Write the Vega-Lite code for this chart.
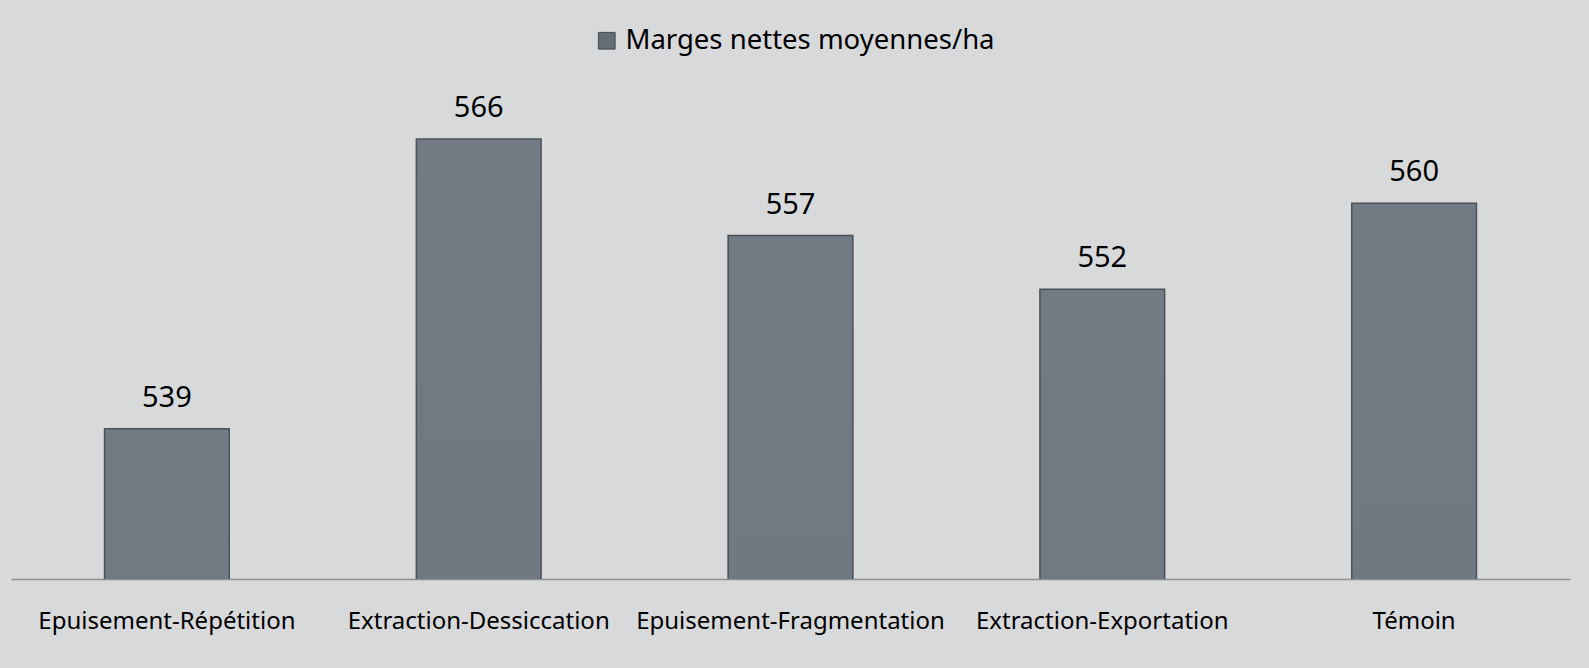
{
  "$schema": "https://vega.github.io/schema/vega-lite/v6.json",
  "autosize": {"type": "none"},
  "width": 1559,
  "height": 483,
  "padding": {"left": 11, "top": 96, "right": 19, "bottom": 89},
  "background": "#d8d9db",
  "config": {
    "view": {"stroke": null},
    "font": "Noto Sans"
  },
  "data": {
    "values": [
      {"traitement": "Epuisement-Répétition", "marge": 539, "serie": "Marges nettes moyennes/ha"},
      {"traitement": "Extraction-Dessiccation", "marge": 566, "serie": "Marges nettes moyennes/ha"},
      {"traitement": "Epuisement-Fragmentation", "marge": 557, "serie": "Marges nettes moyennes/ha"},
      {"traitement": "Extraction-Exportation", "marge": 552, "serie": "Marges nettes moyennes/ha"},
      {"traitement": "Témoin", "marge": 560, "serie": "Marges nettes moyennes/ha"}
    ]
  },
  "encoding": {
    "x": {
      "field": "traitement",
      "type": "nominal",
      "sort": null,
      "scale": {"paddingInner": 0.6, "paddingOuter": 0.3},
      "axis": {
        "title": null,
        "labelAngle": 0,
        "labelFontSize": 24,
        "labelLimit": 0,
        "labelColor": "#000000",
        "labelPadding": 30,
        "ticks": false,
        "domainColor": "#8e8f91",
        "domainWidth": 1.5
      }
    },
    "y": {
      "field": "marge",
      "type": "quantitative",
      "scale": {"domain": [525, 570], "zero": false, "nice": false},
      "axis": null
    }
  },
  "layer": [
    {
      "mark": {"type": "bar", "clip": true},
      "encoding": {
        "fill": {
          "field": "serie",
          "type": "nominal",
          "scale": {"range": ["#656d75"]},
          "legend": {
            "title": null,
            "orient": "none",
            "legendX": 582,
            "legendY": -69,
            "symbolType": "square",
            "symbolSize": 280,
            "symbolStrokeColor": "#444a50",
            "symbolStrokeWidth": 1,
            "labelFontSize": 27.5,
            "labelLimit": 0,
            "labelColor": "#000000",
            "labelOffset": 5
          }
        }
      }
    },
    {
      "mark": {
        "type": "bar",
        "clip": true,
        "stroke": "#4a5157",
        "strokeWidth": 1.5,
        "fill": {
          "gradient": "linear",
          "x1": 0, "y1": 0, "x2": 0, "y2": 1,
          "stops": [
            {"offset": 0, "color": "#727b84"},
            {"offset": 0.5, "color": "#656d75"},
            {"offset": 1, "color": "#555c63"}
          ]
        }
      }
    },
    {
      "mark": {"type": "text", "baseline": "bottom", "dy": -16, "fontSize": 29, "color": "#000000"},
      "encoding": {
        "text": {"field": "marge", "type": "quantitative"}
      }
    }
  ]
}
